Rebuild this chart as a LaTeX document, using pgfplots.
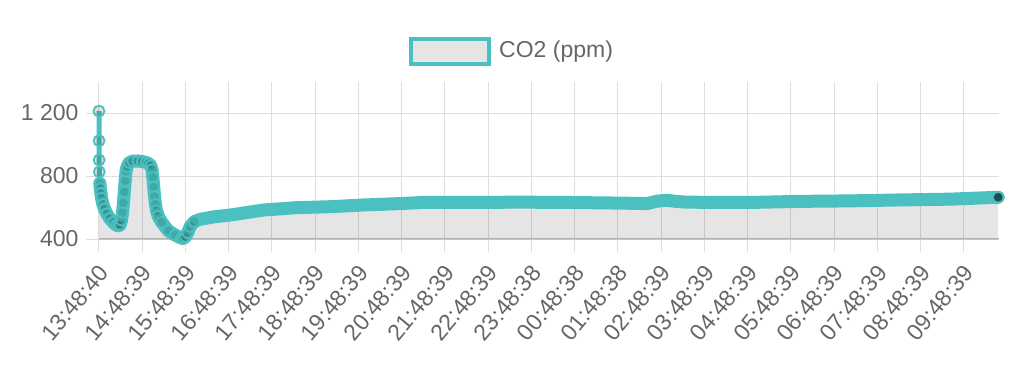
\documentclass[border=0pt]{standalone}
\usepackage{pgfplots}
\pgfplotsset{compat=1.18}
\usepackage{pgfplotstable}
\usepackage{fontspec}
\setmainfont{Liberation Sans}
\definecolor{teal1}{RGB}{75,192,192}
\definecolor{gridg}{RGB}{222,222,222}
\definecolor{axg}{RGB}{200,200,200}
\definecolor{txt}{RGB}{102,102,102}

\pgfplotstableread{
t v
0.000 1212
0.002 1024
0.004 902
0.008 827
0.020 754
0.030 720
0.045 690
0.060 660
0.090 620
0.130 590
0.180 560
0.250 530
0.330 505
0.400 488
0.450 484
0.490 490
0.520 520
0.545 570
0.565 630
0.585 700
0.605 770
0.625 830
0.650 860
0.700 885
0.780 895
0.900 895
1.000 892
1.090 886
1.150 878
1.200 865
1.225 840
1.245 790
1.265 730
1.285 670
1.305 620
1.330 580
1.370 545
1.450 506
1.600 453
1.760 425
1.900 406
1.950 404
2.000 415
2.050 440
2.110 480
2.200 510
2.335 525
2.640 540
3.030 552
3.800 584
4.570 599
5.340 605
6.110 616
6.880 624
7.580 633
8.580 632
9.730 634
10.890 632
12.050 628
12.670 625
12.900 640
13.130 646
13.360 638
13.600 634
14.360 632
15.050 632
16.210 639
17.360 642
18.520 648
19.680 653
20.790 665
}\co

\begin{document}
\begin{tikzpicture}
\useasboundingbox (-99pt,-126pt) rectangle (925pt,239pt);
\begin{axis}[
 at={(0,0)}, anchor=south west,
 scale only axis, width=900pt, height=157.5pt,
 xmin=0, xmax=20.81, ymin=400, ymax=1400,
 clip=false,
 axis x line*=bottom, axis y line*=left,
 x axis line style={draw=axg, line width=1.5pt},
 y axis line style={draw=gridg, line width=1pt},
 xtick={0,...,20},
 xticklabels={13:48:40,14:48:39,15:48:39,16:48:39,17:48:39,18:48:39,19:48:39,20:48:39,21:48:39,22:48:39,23:48:38,00:48:38,01:48:38,02:48:39,03:48:39,04:48:39,05:48:39,06:48:39,07:48:39,08:48:39,09:48:39},
 ytick={400,800,1200},
 yticklabels={400,800,1 200},
 grid=major,
 major grid style={draw=gridg, line width=1pt},
 tick align=outside,
 major tick length=13pt,
 tick style={draw=gridg, line width=1pt},
 tick label style={font=\fontsize{23}{26}\selectfont, text=txt},
 xticklabel style={xshift=7pt, yshift=-14pt, rotate=50, anchor=east},
 yticklabel style={xshift=-4pt, anchor=east},
]
\addplot[draw=none, fill=black, fill opacity=0.1] table[x=t,y=v] {\co} |- (axis cs:0,400) -- cycle;
\addplot[teal1, line width=13pt, line join=round, line cap=round, restrict x to domain=0.015:21] table[x=t,y=v] {\co};
\addplot[teal1, line width=5pt, line join=round, mark=*, mark size=5.5pt, mark options={draw=teal1, line width=1.8pt, fill=black, fill opacity=0.12}, restrict x to domain=0:2.2] table[x=t,y=v] {\co};
\addplot[only marks, mark=*, mark size=5.5pt, mark options={draw=teal1, line width=1.8pt, fill=teal1!40!black}, restrict x to domain=20.7:21] table[x=t,y=v] {\co};
\end{axis}
\draw[teal1, line width=4pt, fill=black, fill opacity=0.1] (312pt,175pt) rectangle (390pt,200pt);
\node[anchor=west, text=txt, font=\fontsize{23}{26}\selectfont, inner sep=0pt] at (400pt,187.5pt) {CO2 (ppm)};
\end{tikzpicture}
\end{document}
